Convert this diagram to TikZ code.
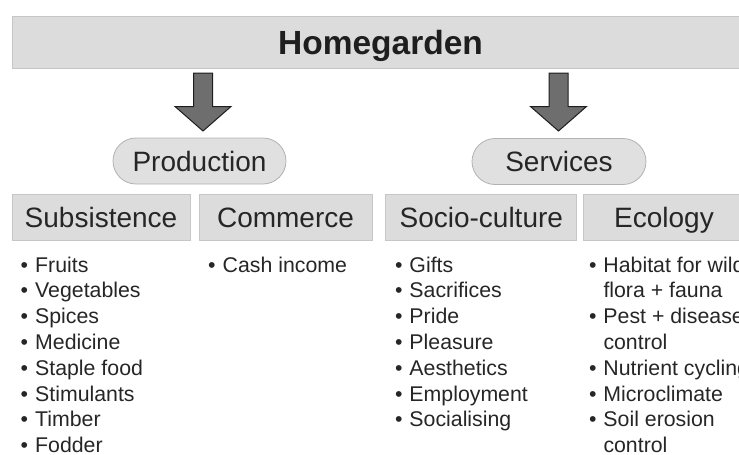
\documentclass[tikz,border=0pt]{standalone}
\usepackage{fontspec}
\setmainfont{Liberation Sans}
\definecolor{boxfill}{HTML}{DCDCDC}
\definecolor{boxline}{HTML}{C6C6C6}
\definecolor{pillfill}{HTML}{E0E0E0}
\definecolor{pillline}{HTML}{B2B2B2}
\definecolor{arrfill}{HTML}{6E6E6E}
\definecolor{arrline}{HTML}{1E1E1E}
\definecolor{txt}{HTML}{262626}
\newcommand{\itembox}[1]{\makebox[14.5pt][l]{#1}}
\tikzset{
  header/.style={fill=boxfill, draw=boxline, line width=0.8pt, inner sep=0pt,
    minimum width=737pt, minimum height=52pt, text=txt!80!black,
    font=\fontsize{33.5}{36}\selectfont\bfseries, text height=24pt, text depth=0pt},
  pill/.style={fill=pillfill, draw=pillline, line width=0.8pt, inner sep=0pt,
    minimum height=46pt, rounded corners=23pt, text=txt,
    font=\fontsize{28}{32}\selectfont, text height=20pt, text depth=0pt},
  catbox/.style={fill=boxfill, draw=boxline, line width=0.8pt, inner sep=0pt,
    minimum height=46pt, text=txt,
    font=\fontsize{28}{32}\selectfont, text height=20pt, text depth=0pt},
  item/.style={anchor=base west, inner sep=0pt, text=txt,
    font=\fontsize{21.3}{25.8}\selectfont},
  blockarrow/.style={fill=arrfill, draw=arrline, line width=1pt, line join=miter}
}
\begin{document}
\begin{tikzpicture}[x=1pt,y=-1pt]
\useasboundingbox (0,0) rectangle (739,455);
\clip (0,0) rectangle (739,455);

% header
\node[header] (hg) at (380.5,42) {Homegarden};

% second level
\node[pill, minimum width=173pt] (prod) at (199.5,161) {Production};
\node[pill, minimum width=174pt] (serv) at (559,161.5) {Services};

% block arrows from header to the two groups
\coordinate (a1) at (203,73);
\coordinate (a2) at (558.5,73);
\foreach \a in {a1,a2}{
  \draw[blockarrow] (\a) ++(-9.5,0) -- ++(19,0) -- ++(0,33.5) -- ++(18.5,0)
     -- ++(-28,24.5) -- ++(-28,-24.5) -- ++(18.5,0) -- cycle;
}

% third level
\node[catbox, minimum width=178pt] (subs) at (101,217) {Subsistence};
\node[catbox, minimum width=173pt] (comm) at (285.5,217) {Commerce};
\node[catbox, minimum width=191pt] (soc) at (481.3,217) {Socio-culture};
\node[catbox, minimum width=162pt] (eco) at (664,217) {Ecology};

% lists
\foreach \t [count=\i] in {Fruits, Vegetables, Spices, Medicine, Staple food,
    Stimulants, Timber, Fodder}
  \node[item] (subs-\i) at (20.5,{272+25.8*(\i-1)}) {\itembox{\textbullet}\t};

\node[item] (comm-1) at (208,272) {\itembox{\textbullet}Cash income};

\foreach \t [count=\i] in {Gifts, Sacrifices, Pride, Pleasure, Aesthetics,
    Employment, Socialising}
  \node[item] (soc-\i) at (394.8,{272+25.8*(\i-1)}) {\itembox{\textbullet}\t};

\foreach \b/\t [count=\i] in {1/Habitat for wild, 0/flora + fauna,
    1/Pest + disease, 0/control, 1/Nutrient cycling, 1/Microclimate,
    1/Soil erosion, 0/control}
  \node[item] (eco-\i) at (588.8,{272+25.8*(\i-1)})
    {\itembox{\ifnum\b=1 \textbullet\fi}\t};
\end{tikzpicture}
\end{document}
